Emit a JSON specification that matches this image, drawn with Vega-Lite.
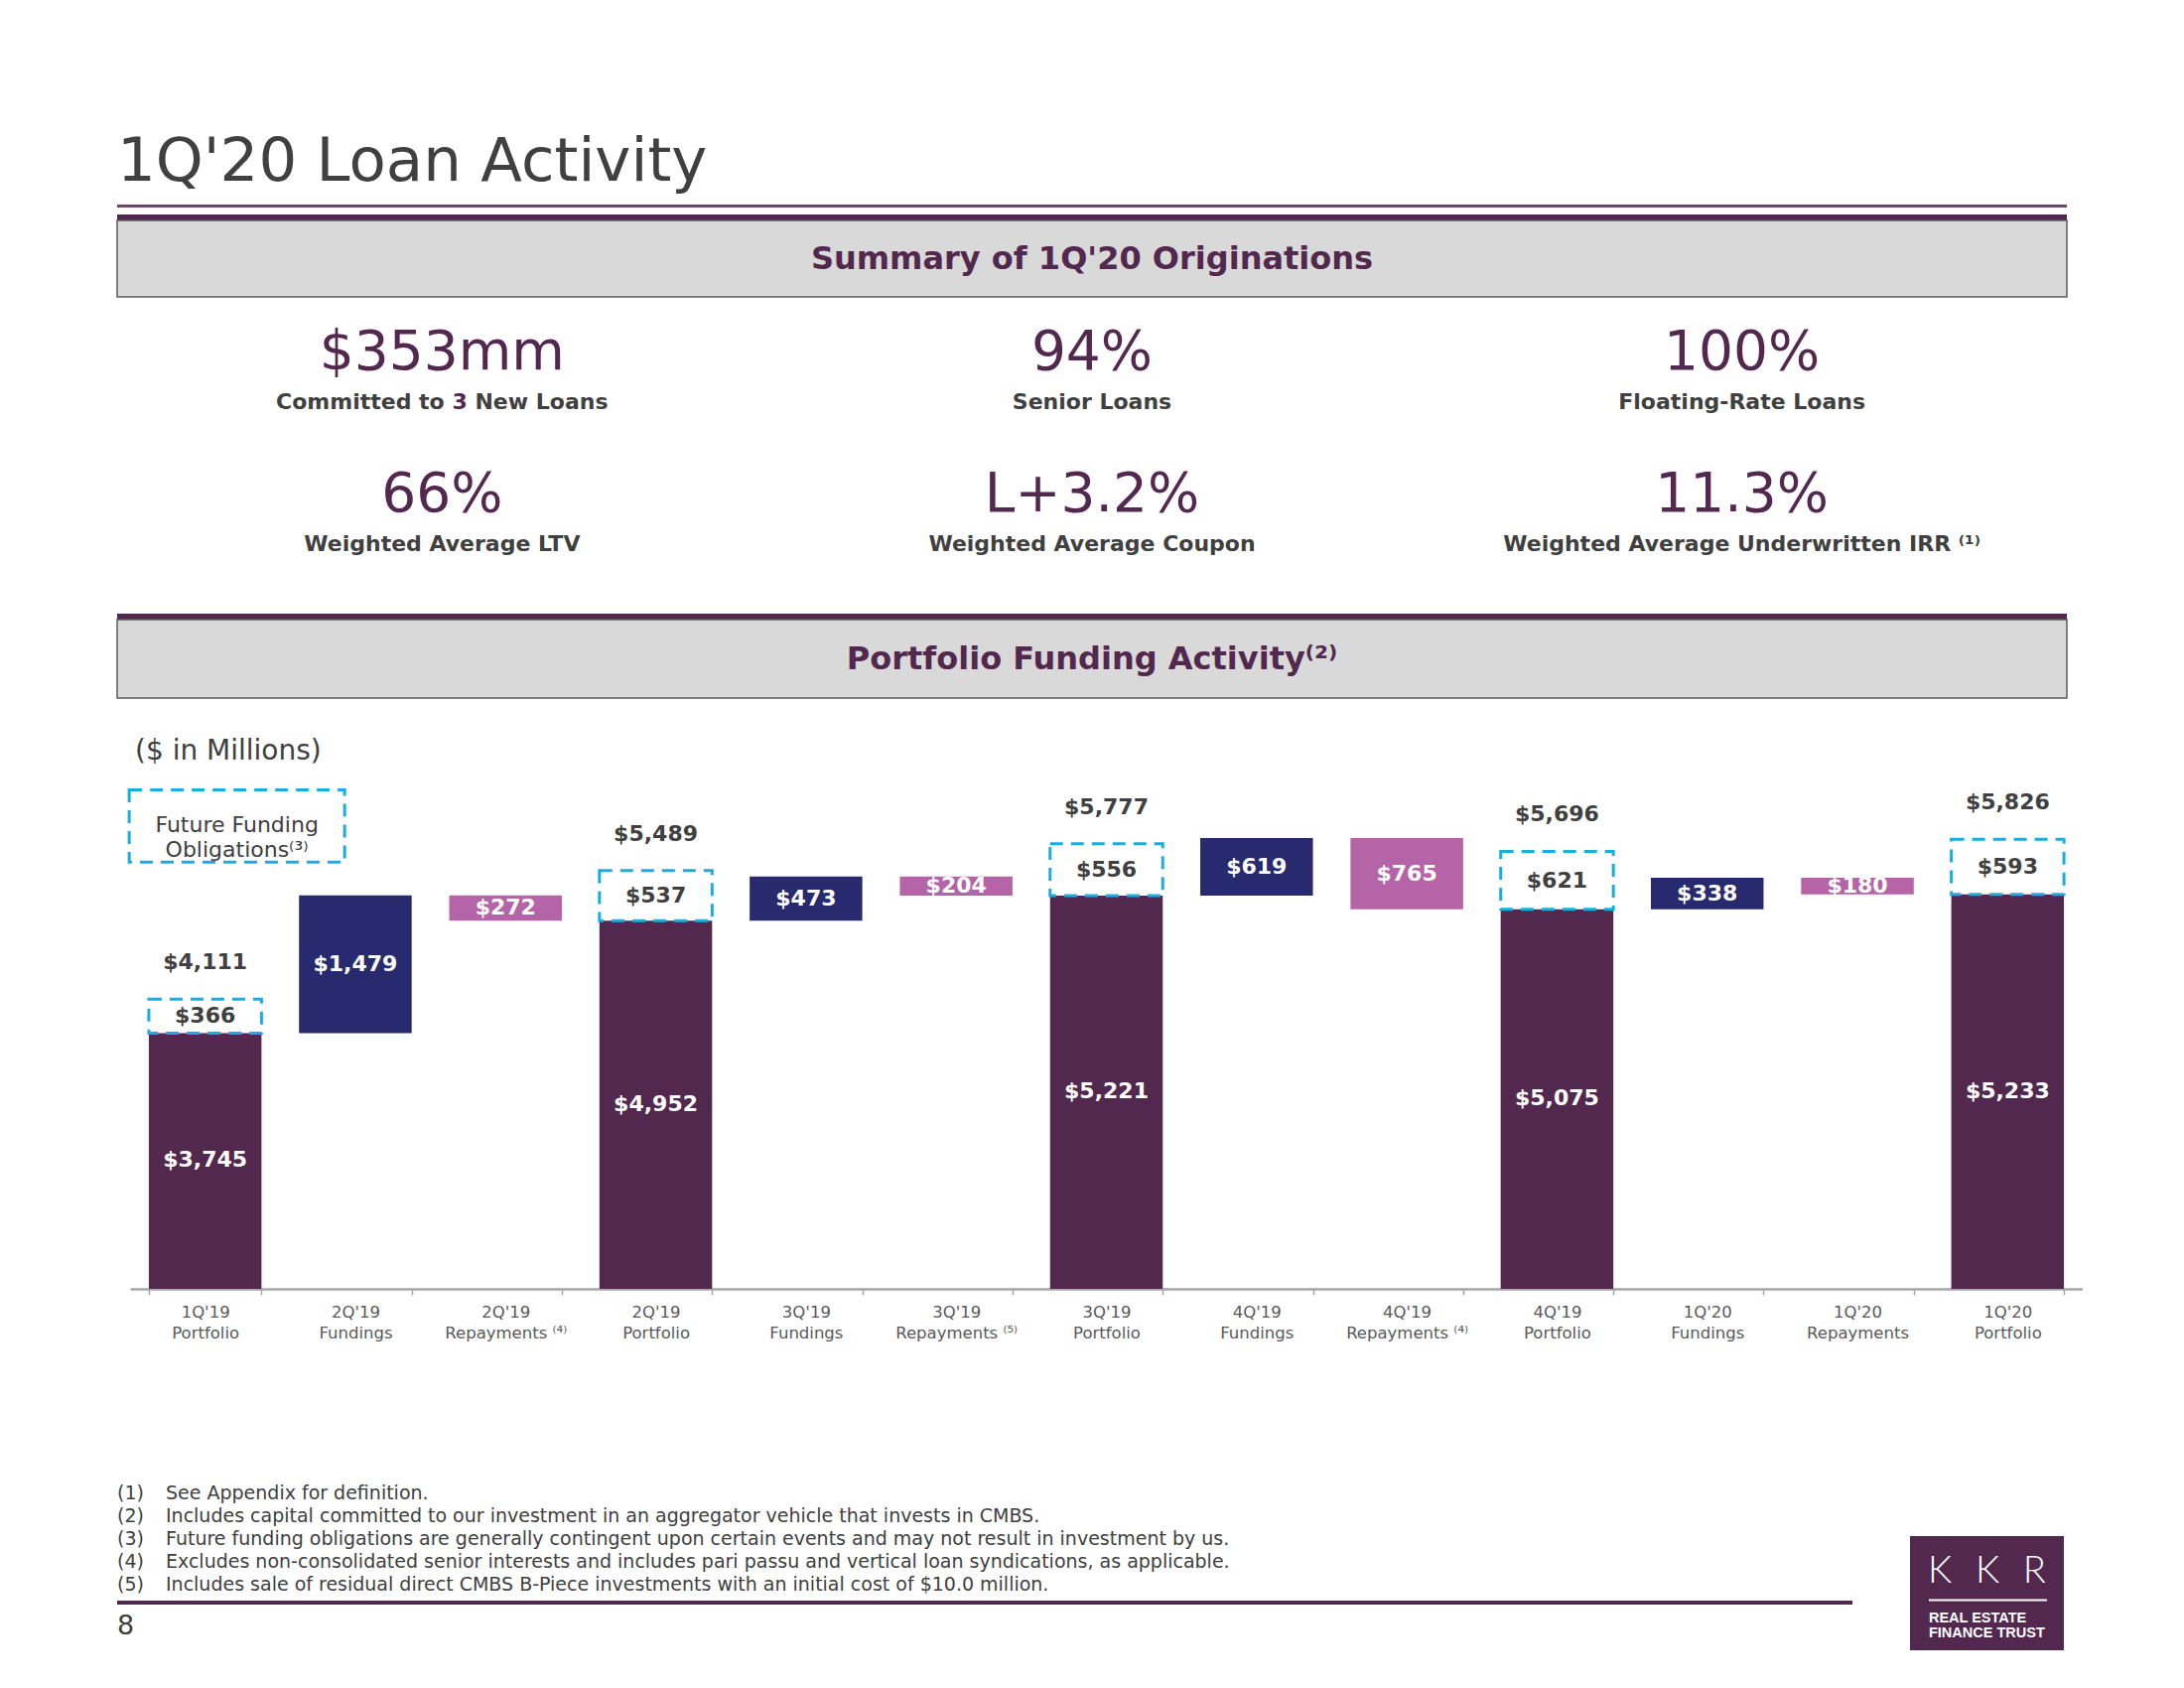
{
  "$schema": "https://vega.github.io/schema/vega-lite/v6.json",
  "background": "#ffffff",
  "padding": {"top": 132, "left": 117, "right": 0, "bottom": 0},
  "autosize": {"type": "pad"},
  "config": {"view": {"stroke": null}, "font": "DejaVu Sans", "text": {"font": "DejaVu Sans"}},
  "datasets": {
    "one": [{}],
    "kpi": [
      {"col": "c1", "row": "r1", "value": "$353mm", "pre": "Committed to", "hl": "3", "post": "New Loans"},
      {"col": "c2", "row": "r1", "value": "94%", "label": "Senior Loans"},
      {"col": "c3", "row": "r1", "value": "100%", "label": "Floating-Rate Loans"},
      {"col": "c1", "row": "r2", "value": "66%", "label": "Weighted Average LTV"},
      {"col": "c2", "row": "r2", "value": "L+3.2%", "label": "Weighted Average Coupon"},
      {"col": "c3", "row": "r2", "value": "11.3%", "label": "Weighted Average Underwritten IRR ⁽¹⁾"}
    ],
    "chart": [
      {"step": "1Q'19|Portfolio", "kind": "Portfolio", "lo": 0, "hi": 3745, "amount": 3745, "ff": 366, "total": 4111},
      {"step": "2Q'19|Fundings", "kind": "Fundings", "lo": 3745, "hi": 5224, "amount": 1479},
      {"step": "2Q'19|Repayments ⁽⁴⁾", "kind": "Repayments", "lo": 4952, "hi": 5224, "amount": 272},
      {"step": "2Q'19|Portfolio", "kind": "Portfolio", "lo": 0, "hi": 4952, "amount": 4952, "ff": 537, "total": 5489},
      {"step": "3Q'19|Fundings", "kind": "Fundings", "lo": 4952, "hi": 5425, "amount": 473},
      {"step": "3Q'19|Repayments ⁽⁵⁾", "kind": "Repayments", "lo": 5221, "hi": 5425, "amount": 204},
      {"step": "3Q'19|Portfolio", "kind": "Portfolio", "lo": 0, "hi": 5221, "amount": 5221, "ff": 556, "total": 5777},
      {"step": "4Q'19|Fundings", "kind": "Fundings", "lo": 5221, "hi": 5840, "amount": 619},
      {"step": "4Q'19|Repayments ⁽⁴⁾", "kind": "Repayments", "lo": 5075, "hi": 5840, "amount": 765},
      {"step": "4Q'19|Portfolio", "kind": "Portfolio", "lo": 0, "hi": 5075, "amount": 5075, "ff": 621, "total": 5696},
      {"step": "1Q'20|Fundings", "kind": "Fundings", "lo": 5075, "hi": 5413, "amount": 338},
      {"step": "1Q'20|Repayments", "kind": "Repayments", "lo": 5233, "hi": 5413, "amount": 180},
      {"step": "1Q'20|Portfolio", "kind": "Portfolio", "lo": 0, "hi": 5233, "amount": 5233, "ff": 593, "total": 5826}
    ],
    "notes": [
      {"n": "(1)", "note": "See Appendix for definition."},
      {"n": "(2)", "note": "Includes capital committed to our investment in an aggregator vehicle that invests in CMBS."},
      {"n": "(3)", "note": "Future funding obligations are generally contingent upon certain events and may not result in investment by us."},
      {"n": "(4)", "note": "Excludes non-consolidated senior interests and includes pari passu and vertical loan syndications, as applicable."},
      {"n": "(5)", "note": "Includes sale of residual direct CMBS B-Piece investments with an initial cost of $10.0 million."}
    ]
  },
  "bounds": "flush",
  "spacing": 0,
  "vconcat": [
    {
      "width": 1964, "height": 3,
      "view": {"fill": "#6b4769"},
      "title": {"text": "1Q'20 Loan Activity", "anchor": "start", "frame": "group", "fontSize": 61, "fontWeight": "normal", "color": "#404040", "baseline": "alphabetic", "offset": -41},
      "data": {"name": "one"}, "mark": "text", "encoding": {"text": {"value": ""}}
    },
    {"width": 1964, "height": 7, "data": {"name": "one"}, "mark": "text", "encoding": {"text": {"value": ""}}},
    {"width": 1964, "height": 6, "view": {"fill": "#52284f"}, "data": {"name": "one"}, "mark": "text", "encoding": {"text": {"value": ""}}},
    {
      "width": 1964, "height": 77,
      "view": {"fill": "#d9d9d9", "stroke": "#595959", "strokeWidth": 1.5},
      "data": {"name": "one"},
      "mark": {"type": "text", "fontSize": 32, "fontWeight": "bold", "fill": "#52284f", "baseline": "middle", "dy": 0},
      "encoding": {"text": {"value": "Summary of 1Q'20 Originations"}}
    },
    {
      "width": 1964, "height": 301,
      "data": {"name": "kpi"},
      "encoding": {
        "x": {"field": "col", "type": "nominal", "scale": {"type": "point", "padding": 0.5}, "axis": null},
        "y": {"field": "row", "type": "nominal", "scale": {"type": "point", "padding": 0.55}, "axis": null}
      },
      "layer": [
        {"mark": {"type": "text", "fontSize": 55, "fill": "#52284f", "baseline": "middle", "dy": -22.7}, "encoding": {"text": {"field": "value"}}},
        {"transform": [{"filter": "isValid(datum.label)"}], "mark": {"type": "text", "fontSize": 22, "fontWeight": "bold", "fill": "#404040", "baseline": "middle", "dy": 27.1}, "encoding": {"text": {"field": "label"}}},
        {"transform": [{"filter": "isValid(datum.pre)"}], "mark": {"type": "text", "fontSize": 22, "fontWeight": "bold", "fill": "#404040", "baseline": "middle", "align": "right", "dy": 27.1, "dx": 2.4}, "encoding": {"text": {"field": "pre"}}},
        {"transform": [{"filter": "isValid(datum.hl)"}], "mark": {"type": "text", "fontSize": 22, "fontWeight": "bold", "fill": "#52284f", "baseline": "middle", "dy": 27.1, "dx": 17.8}, "encoding": {"text": {"field": "hl"}}},
        {"transform": [{"filter": "isValid(datum.post)"}], "mark": {"type": "text", "fontSize": 22, "fontWeight": "bold", "fill": "#404040", "baseline": "middle", "align": "left", "dy": 27.1, "dx": 33.1}, "encoding": {"text": {"field": "post"}}}
      ]
    },
    {"width": 1964, "height": 18, "data": {"name": "one"}, "mark": "text", "encoding": {"text": {"value": ""}}},
    {"width": 1964, "height": 6, "view": {"fill": "#52284f"}, "data": {"name": "one"}, "mark": "text", "encoding": {"text": {"value": ""}}},
    {
      "width": 1964, "height": 79,
      "view": {"fill": "#d9d9d9", "stroke": "#595959", "strokeWidth": 1.5},
      "data": {"name": "one"},
      "mark": {"type": "text", "fontSize": 32, "fontWeight": "bold", "fill": "#52284f", "baseline": "middle", "dy": 0},
      "encoding": {"text": {"value": "Portfolio Funding Activity⁽²⁾"}}
    },
    {"width": 1964, "height": 79, "data": {"name": "one"}, "mark": "text", "encoding": {"text": {"value": ""}}},
    {
      "bounds": "flush",
      "spacing": 12,
      "hconcat": [
        {"width": 1, "height": 516, "data": {"name": "one"}, "mark": "text", "encoding": {"text": {"value": ""}}},
        {
          "width": 1967, "height": 516,
          "title": {"text": "($ in Millions)", "anchor": "start", "frame": "group", "fontSize": 28, "fontWeight": "normal", "color": "#404040", "baseline": "alphabetic", "offset": -11, "dx": 5},
          "data": {"name": "chart"},
          "encoding": {
            "x": {
              "field": "step", "type": "nominal", "sort": null,
              "scale": {
                "domain": ["1Q'19|Portfolio", "2Q'19|Fundings", "2Q'19|Repayments ⁽⁴⁾", "2Q'19|Portfolio", "3Q'19|Fundings", "3Q'19|Repayments ⁽⁵⁾", "3Q'19|Portfolio", "4Q'19|Fundings", "4Q'19|Repayments ⁽⁴⁾", "4Q'19|Portfolio", "1Q'20|Fundings", "1Q'20|Repayments", "1Q'20|Portfolio"],
                "paddingInner": 0.25, "paddingOuter": 0.125
              },
              "axis": {
                "title": null, "labelExpr": "split(datum.label, '|')", "labelFontSize": 16.5, "labelColor": "#595959",
                "labelLineHeight": 21, "labelPadding": 9, "labelAngle": 0, "labelOverlap": false, "labelBaseline": "top",
                "tickSize": 6, "tickColor": "#a6a6a6", "tickWidth": 1.5, "tickBand": "extent",
                "domainColor": "#a6a6a6", "domainWidth": 2.5, "grid": false
              }
            }
          },
          "layer": [
            {
              "mark": {"type": "bar"},
              "encoding": {
                "y": {"field": "lo", "type": "quantitative", "scale": {"domain": [1018, 6430], "clamp": true}, "axis": null},
                "y2": {"field": "hi"},
                "color": {"field": "kind", "type": "nominal", "scale": {"domain": ["Portfolio", "Fundings", "Repayments"], "range": ["#52284f", "#272a6e", "#b565a7"]}, "legend": null}
              }
            },
            {
              "transform": [{"filter": "isValid(datum.ff)"}],
              "mark": {"type": "bar", "filled": false, "stroke": "#1aade4", "strokeWidth": 3, "strokeDash": [13, 8]},
              "encoding": {"y": {"field": "hi", "type": "quantitative"}, "y2": {"field": "total"}}
            },
            {
              "transform": [{"calculate": "(max(datum.lo, 1018) + datum.hi) / 2", "as": "mid"}],
              "mark": {"type": "text", "fontWeight": "bold", "fontSize": 22, "fill": "#ffffff", "baseline": "middle"},
              "encoding": {"y": {"field": "mid", "type": "quantitative"}, "text": {"field": "amount", "type": "quantitative", "format": "$,.0f"}}
            },
            {
              "transform": [{"filter": "isValid(datum.ff)"}, {"calculate": "(datum.hi + datum.total) / 2", "as": "ffmid"}],
              "mark": {"type": "text", "fontWeight": "bold", "fontSize": 22, "fill": "#404040", "baseline": "middle"},
              "encoding": {"y": {"field": "ffmid", "type": "quantitative"}, "text": {"field": "ff", "type": "quantitative", "format": "$,.0f"}}
            },
            {
              "transform": [{"filter": "isValid(datum.ff)"}],
              "mark": {"type": "text", "fontWeight": "bold", "fontSize": 22, "fill": "#404040", "baseline": "middle", "dy": -37},
              "encoding": {"y": {"field": "total", "type": "quantitative"}, "text": {"field": "total", "type": "quantitative", "format": "$,.0f"}}
            },
            {
              "data": {"name": "one"},
              "mark": {"type": "bar", "filled": false, "stroke": "#1aade4", "strokeWidth": 3, "strokeDash": [13, 8], "width": 217, "xOffset": 32},
              "encoding": {"x": {"datum": "1Q'19|Portfolio"}, "y": {"datum": 6357}, "y2": {"datum": 5581}}
            },
            {
              "data": {"name": "one"},
              "mark": {"type": "text", "fontSize": 22, "fill": "#404040", "baseline": "middle", "lineHeight": 25, "xOffset": 32},
              "encoding": {"x": {"datum": "1Q'19|Portfolio"}, "y": {"datum": 5974}, "text": {"value": ["Future Funding", "Obligations⁽³⁾"]}}
            }
          ]
        }
      ]
    },
    {"width": 1964, "height": 722, "data": {"name": "one"}, "mark": "text", "encoding": {"text": {"value": ""}}},
    {
      "bounds": "flush",
      "spacing": 1805,
      "hconcat": [
        {
          "bounds": "flush",
          "spacing": 0,
          "vconcat": [
            {
              "width": 49, "height": 92,
              "data": {"name": "notes"},
              "encoding": {"y": {"field": "n", "type": "ordinal", "scale": {"type": "point", "padding": 0}, "axis": null}},
              "layer": [
                {"mark": {"type": "text", "align": "left", "baseline": "middle", "fontSize": 19, "fill": "#404040"},
                 "encoding": {"x": {"datum": "num", "type": "nominal", "scale": {"type": "point", "padding": 0, "domain": ["num", "note"]}, "axis": null}, "text": {"field": "n"}}},
                {"mark": {"type": "text", "align": "left", "baseline": "middle", "fontSize": 19, "fill": "#404040"},
                 "encoding": {"x": {"datum": "note", "type": "nominal"}, "text": {"field": "note"}}}
              ]
            },
            {"width": 1748, "height": 16, "data": {"name": "one"}, "mark": "text", "encoding": {"text": {"value": ""}}},
            {"width": 1748, "height": 4, "view": {"fill": "#52284f"}, "data": {"name": "one"}, "mark": "text", "encoding": {"text": {"value": ""}}},
            {"width": 17, "height": 44, "data": {"name": "one"}, "mark": {"type": "text", "fontSize": 27, "fill": "#404040", "baseline": "middle"}, "encoding": {"text": {"value": "8"}}}
          ]
        },
        {
          "bounds": "flush",
          "spacing": 0,
          "vconcat": [
            {"width": 157, "height": 42, "data": {"name": "one"}, "mark": "text", "encoding": {"text": {"value": ""}}},
            {
              "width": 157, "height": 117,
              "view": {"fill": "#52284f", "stroke": "#ffffff", "strokeWidth": 2},
              "data": {"name": "one"},
              "layer": [
                {"mark": {"type": "text", "font": "Lato", "fontWeight": 300, "fontSize": 38, "fill": "#ffffff", "baseline": "middle"},
                 "encoding": {"x": {"datum": 0.5, "type": "quantitative", "scale": {"domain": [0, 1]}, "axis": null}, "y": {"datum": 0.682, "type": "quantitative", "scale": {"domain": [0, 1]}, "axis": null}, "text": {"value": "K\u2002\u2009K\u2002\u2009R"}}},
                {"mark": {"type": "rule", "stroke": "#ffffff", "strokeWidth": 2},
                 "encoding": {"x": {"datum": 0.127, "type": "quantitative"}, "x2": {"datum": 0.885}, "y": {"datum": 0.44, "type": "quantitative"}}},
                {"mark": {"type": "text", "font": "Liberation Sans", "fontWeight": "bold", "fontSize": 14.5, "fill": "#ffffff", "align": "left", "baseline": "middle"},
                 "encoding": {"x": {"datum": 0.127, "type": "quantitative"}, "y": {"datum": 0.284, "type": "quantitative"}, "text": {"value": "REAL ESTATE"}}},
                {"mark": {"type": "text", "font": "Liberation Sans", "fontWeight": "bold", "fontSize": 14.5, "fill": "#ffffff", "align": "left", "baseline": "middle"},
                 "encoding": {"x": {"datum": 0.127, "type": "quantitative"}, "y": {"datum": 0.155, "type": "quantitative"}, "text": {"value": "FINANCE TRUST"}}}
              ]
            }
          ]
        }
      ]
    }
  ]
}
